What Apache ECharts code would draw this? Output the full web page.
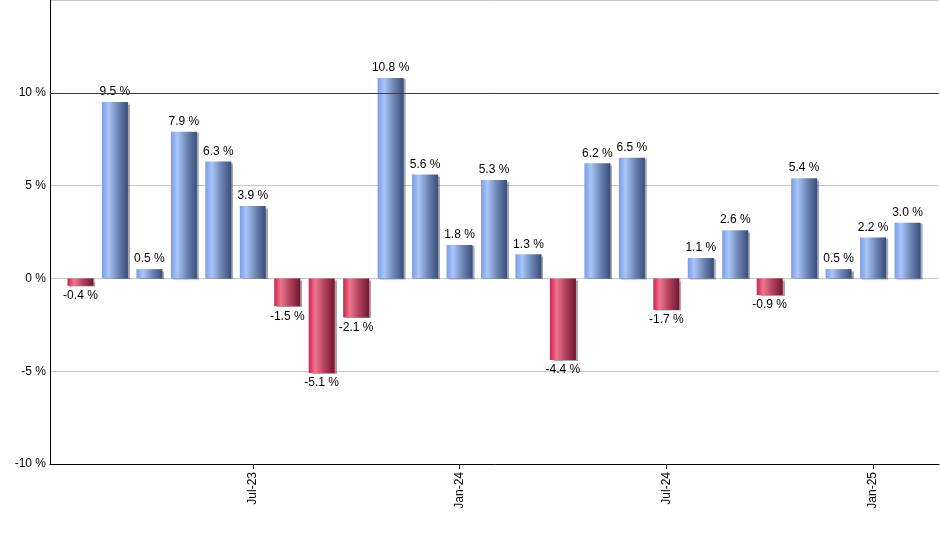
<!DOCTYPE html>
<html>
<head>
<meta charset="utf-8">
<script src="https://cdn.jsdelivr.net/npm/echarts@6/dist/echarts.min.js"></script>
<style>html,body{margin:0;padding:0;background:#fff}#c{width:940px;height:550px}</style>
</head>
<body>
<div id="c"></div>
<script>
const categories = ['Feb-23','Mar-23','Apr-23','May-23','Jun-23','Jul-23','Aug-23','Sep-23','Oct-23','Nov-23','Dec-23','Jan-24','Feb-24','Mar-24','Apr-24','May-24','Jun-24','Jul-24','Aug-24','Sep-24','Oct-24','Nov-24','Dec-24','Jan-25','Feb-25'];
const values = [-0.4, 9.5, 0.5, 7.9, 6.3, 3.9, -1.5, -5.1, -2.1, 10.8, 5.6, 1.8, 5.3, 1.3, -4.4, 6.2, 6.5, -1.7, 1.1, 2.6, -0.9, 5.4, 0.5, 2.2, 3.0];
const xTickLabels = ['Jul-23','Jan-24','Jul-24','Jan-25'];
const yTicks = [-10, -5, 0, 5, 10];

const font = '"Liberation Sans", Arial, sans-serif';
const blueGrad = new echarts.graphic.LinearGradient(0, 0, 1, 0, [
  {offset: 0, color: '#779ded'}, {offset: 0.25, color: '#a9c6f7'}, {offset: 0.6, color: '#7088b8'}, {offset: 1, color: '#384d78'}
]);
const redGrad = new echarts.graphic.LinearGradient(0, 0, 1, 0, [
  {offset: 0, color: '#d81c46'}, {offset: 0.25, color: '#ea7890'}, {offset: 0.6, color: '#b2425c'}, {offset: 1, color: '#6c1830'}
]);

const data = values.map((v, i) => ({
  value: [i, v],
  itemStyle: {color: v >= 0 ? blueGrad : redGrad},
  label: {position: v >= 0 ? 'top' : 'bottom'}
}));
const labelIdx = xTickLabels.map(l => categories.indexOf(l));

const chart = echarts.init(document.getElementById('c'), null, {renderer: 'canvas'});
chart.setOption({
  animation: false,
  grid: {left: 50, right: 1, top: 0, bottom: 86, containLabel: false},
  xAxis: {
    type: 'value', min: -0.884, max: 24.913,
    axisLine: {show: true, onZero: false, lineStyle: {color: '#000', width: 1}},
    axisTick: {show: true, customValues: labelIdx, length: 5, lineStyle: {color: '#000'}},
    axisLabel: {show: true, customValues: labelIdx, rotate: 90, color: '#000', fontFamily: font, fontSize: 12, margin: 8,
      formatter: v => categories[Math.round(v)]},
    splitLine: {show: false}
  },
  yAxis: {
    type: 'value', min: -10, max: 15, interval: 5,
    axisLine: {show: true, onZero: false, lineStyle: {color: '#000', width: 1}},
    axisTick: {show: false},
    axisLabel: {color: '#000', fontFamily: font, fontSize: 12, margin: 4,
      formatter: v => (yTicks.indexOf(v) >= 0 ? v + ' %' : '')},
    splitLine: {show: true, lineStyle: {color: '#c8c8c8', width: 1}}
  },
  series: [{
    type: 'bar',
    data: data,
    barWidth: 26,
    itemStyle: {shadowColor: 'rgba(0,0,0,0.35)', shadowOffsetX: 2, shadowOffsetY: 1, shadowBlur: 1},
    label: {show: true, color: '#000', fontFamily: font, fontSize: 12, distance: 4,
      formatter: p => p.value[1].toFixed(1) + ' %'},
    markLine: {
      silent: true, symbol: ['none', 'none'], label: {show: false},
      lineStyle: {color: '#006400', width: 1, type: 'solid'},
      data: [{yAxis: 10}]
    },
    z: 3
  }]
});
</script>
</body>
</html>
